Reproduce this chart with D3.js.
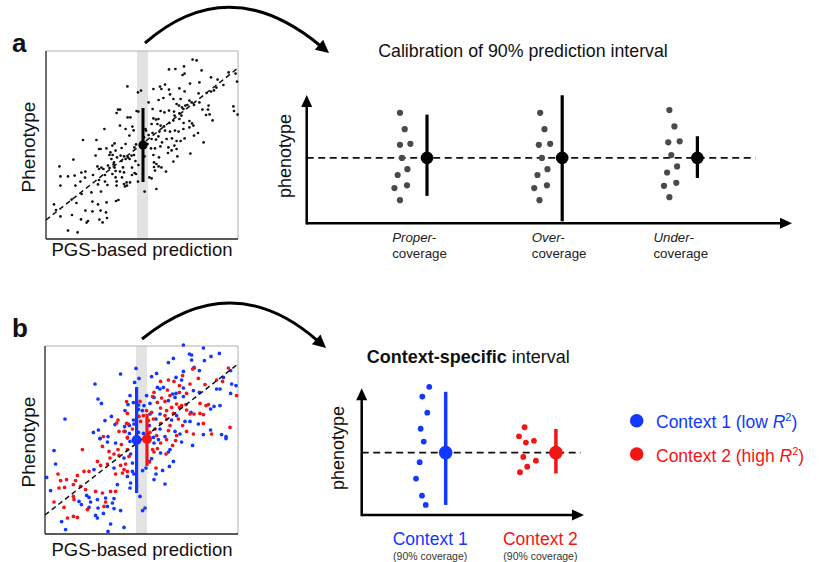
<!DOCTYPE html>
<html><head><meta charset="utf-8">
<script src="https://cdn.jsdelivr.net/npm/d3@7"></script>
<style>
body{margin:0;background:#fff}
svg{display:block}
text{font-family:"Liberation Sans",Arial,Helvetica,sans-serif;fill:#111}
</style>
</head><body>
<svg id="c" width="825" height="562"></svg>
<script>
// ---------------- DATA ----------------
// Panel a scatter: [PGS-based prediction, phenotype] (arbitrary units)
const scatterA = [
[40.7,76.3],[46,73.3],[47.5,74.2],[36,64.7],[37,64.7],[35.3,63],[45.3,64],[46.2,63.7],[40.8,60.8],[42.2,60.8],
[29.2,55],[37,56.7],[43.2,56.2],[43.8,54.3],[39.8,55],[41.7,51.7],[18.5,49.5],[25.2,49.5],[34.3,47.8],[33.2,46.7],
[30.2,45.3],[27.3,45],[32.2,43.3],[34.8,44.2],[37.8,45.5],[39.8,47.5],[45,47.3],[44.2,45.8],[24.8,41.7],[26.5,45],
[31.7,42],[33.3,42],[35.5,40.8],[37.3,41.7],[39,41.3],[41,40.8],[42.8,41.7],[44,42],[13.7,39.7],[32.7,40],
[34,38.3],[39.8,40],[41.8,40],[37.8,39],[44.7,39],[6.7,36.3],[25.7,36.3],[27.7,35.7],[31,36.7],[33.8,37.3],
[31.8,35.5],[34.3,35.7],[38.5,35.8],[43,35.7],[46.2,37],[19.7,33.7],[17.7,33.2],[26.5,35],[28.7,35],[34.8,34],
[37,33.7],[39,33.3],[44.3,33],[43,32],[45,32.5],[7.2,31.3],[11,31.3],[14.3,31.7],[23.5,32],[19.5,30.7],
[29.5,32],[33.2,32.5],[34.8,30.8],[38,30.8],[17.2,28.7],[26.5,29.5],[29.5,28.7],[35.3,28.8],[40.3,28.3],[42,28.3],
[46,28.7],[7.2,26.7],[14.7,26.7],[26,27.3],[30.7,27],[35.3,26.7],[39,27.5],[39.5,26.3],[40.5,26.7],[17.8,22.5],
[22.7,23.3],[27.5,23.7],[12.8,19.7],[15.2,18],[4,17.3],[23.2,18.7],[26,17.3],[30.3,18.3],[35,19],[36.2,19.5],
[5,14.5],[19.7,14.2],[23.2,13.8],[27.3,14.2],[30,13.3],[7.2,11.3],[13,12],[17.5,9.8],[21,9],[20.3,8.2],
[26.7,9.7],[30.5,10.5],[28.3,8.3],[11,4.2],[15.8,3.3],
[73.3,89.7],[75.3,89.3],[69,86.3],[64.7,85],[61.5,84.8],[77.8,84.3],[68.3,82],[69.3,82.7],[82.5,80.8],[85.8,79.7],
[91.3,83.3],[94.8,82.7],[95.5,78.7],[76.7,78.3],[72,77.7],[57,76.2],[59.5,77.2],[57.7,75],[53.7,75],[66.7,75.3],
[69.3,73.8],[61.5,74.7],[88.7,77],[85.2,75.7],[84,74.3],[82.5,73.7],[80.3,73],[76.3,72.8],[62,72.3],[58.7,70.5],
[63.7,70],[56.3,69.5],[51.3,68.3],[67.3,70],[65.3,67.5],[71.7,69.2],[72.8,68.3],[70.7,67],[69.7,66.7],[66.5,66.7],
[68,65.8],[68.7,65],[74,67],[76.7,68.3],[78.2,64.7],[81.3,66.7],[81,64.7],[81.8,62.3],[83.3,59.3],[80,62],
[93.7,66.3],[94,64],[95.8,62.2],[53.3,65],[57.3,64],[59.2,63.3],[61.5,64.2],[64,63.7],[64.3,61.7],[66.7,62.8],
[67.7,61.7],[53.7,60.3],[55,59.7],[56.2,60],[52.8,57.5],[55.7,57.5],[57.3,56.7],[59,56.3],[61.7,58],[63.7,59.2],
[66.7,60],[71.7,59],[73,57.8],[68.8,58],[50,54.2],[51.3,52],[53.3,53],[56.2,51.3],[56.7,53.7],[59.5,54.2],
[62,53.7],[64.5,54.2],[66.3,53.7],[68.7,55],[71.7,55.8],[73.7,56.7],[52.8,50],[55,49.7],[58,48.3],[60.3,50],
[63,50.3],[65.3,49],[67.3,49],[69.3,50.3],[74,51.7],[76,53],[78.8,48.3],[50.8,47.5],[52.5,45.3],[54.5,45.3],
[57.2,46.3],[61.2,45.8],[64.2,46.7],[65.3,45],[49.3,41.3],[53.7,42],[56.5,40.8],[61,43],[65.7,41.3],[72.2,42.7],
[62.8,44.3],[54,38.3],[55.2,37.5],[54,36],[56.3,36.3],[57.7,35.8],[63.7,38.7],[54.5,34.2],[60,33.7],[51.7,30.8],
[52.8,30.3],[49.3,23.7],[55.2,25],[49.7,55],[49,50.8],[49.7,46.7]
];
// Panel a interval at the highlighted prediction
const intervalA = {x: 48.5, lo: 28.5, mid: 47, hi: 65.5};
const bandA = [45.5, 51];
const fitA = [[0, 9.5], [96, 85.5]];

// Panel b scatter
const ctx1Points = [
[45.5,82.8],[47,77.8],[37.8,80],[25,75],[44.8,75.8],[42.5,69.2],[26.5,67.5],[28.2,65.3],[44.2,65.7],[41.5,64.7],
[46.8,64.5],[40,61.7],[46.7,62.3],[33.2,58.8],[10,57.5],[30,56.7],[35,54.7],[39.8,53.7],[42.2,54.3],[44.5,55],
[44.2,57],[24.2,50.8],[26.7,52],[31.5,48.7],[27.5,47.8],[40,51.3],[42.2,50.3],[46.7,50.8],
[69.2,94.5],[79.2,93],[87.2,90.3],[72.2,90],[73.3,89.5],[83,88.8],[64.2,87.8],[73.3,87],[61.7,85.7],[79.7,86.7],
[74.5,83.3],[77.2,81.7],[69.2,81.3],[55.8,80.3],[53.3,78.7],[65.5,78.3],[68.3,77],[89.2,78.3],[92.8,81.7],[59.2,73.3],
[57.5,72.5],[56.2,73.3],[69.2,73],[63.8,70],[65.5,70.3],[74.2,71.7],[77.2,70.8],[85.8,72.5],[87.5,72.5],[93.3,75],
[92.8,70.3],[95.5,74.2],[50.8,69.2],[54.5,68.3],[65,68.3],[69.2,68.7],[61.7,66.7],[52.5,65.3],[87.5,64.2],[84.5,63.8],
[82.8,62.5],[73,60.8],[65.8,59.2],[57.5,60],[52.5,60],[48.7,61.7],[49.5,64.2],[55.5,57.5],[63.3,57],[70,56.3],
[72.5,56.3],[76.7,55],[82.8,52],[52.2,54.2],[57.5,52.5],[65,51.3],[67.5,50],[88.3,49.7],[90.5,48.7],[79.2,49.7],
[49.2,50.3],[54.2,48.3],[60,48.7],
[27.5,47.7],[31.2,46],[35.3,45.5],[42.5,46.3],[4.5,41.7],[42.8,40],[39.5,38],[43.7,35.5],[34.5,33],[24.5,32.2],
[43.7,31.3],[41.2,28.8],[44.5,30],[5.3,35],[42.8,25.5],[36.2,24.7],[42.5,23],[0.8,28.3],[2.8,21.7],[20.8,19.3],
[22,18.3],[22.8,16],[26.2,17.2],[30.3,18],[34.5,17.7],[33.7,15.5],[17,16.3],[18.2,14.7],[22,13.3],[26.5,13],
[31.2,13.8],[34.5,12.7],[37.8,11.7],[25.3,9.3],[26.2,8],[29.2,10.3],[32.8,5],[39.5,3.3],[31.5,1.3],[10.3,2.2],
[41.2,48],[8.3,6.2],
[68.3,46],[73.8,44.3],[90.5,47.7],[62.5,42.2],[61.7,41],[57.8,40.5],[64.2,36.3],[62.2,33.8],[58.8,31.8],[55.5,30],
[54.5,27.2],[60,25],[53.3,37.7],[52.2,36.3],[50.5,33],[48.8,31.7],[50,13],[48.8,11.7],[47.5,18.8],[56.7,47.2],
[54.5,45.5]
];
const ctx2Points = [
[40.8,66.2],[47.5,66.3],[41.2,60.3],[47,58.8],[36.5,57],[35.8,55.5],[40.8,55.3],[41.7,55],[37,51.3],[39.5,51.3],
[43.7,52.5],[29.2,48.7],[41.2,48.3],[45.8,48.3],[47.8,56.3],
[74.7,83],[73.8,82.5],[68.8,79.2],[76.7,77.8],[61.7,77],[57.8,76.3],[64.5,76.3],[72.5,75],[80,74.7],[91.7,83],
[88.8,76.3],[85.8,77],[67.2,74.2],[61.2,72],[54.5,70.8],[67.2,70.8],[70.8,70.3],[62.5,69.2],[58.3,68],[53.8,68.7],
[56.2,65.8],[60,66.3],[65.8,65],[68.3,64.2],[67.2,63.3],[70.5,64.7],[63.3,63.3],[57.8,63],[77.5,65.3],[80.5,64.2],
[81.7,64.7],[95.8,69.2],[60.8,61.7],[70.8,62],[74.5,60],[64.2,60.3],[60,59.2],[53.3,60.8],[50.8,61.7],[54.2,57.5],
[60.8,57.5],[66.7,57.5],[72.5,60],[77.5,60.3],[79.2,59.7],[49.2,59.2],[51.7,56.7],[57.8,55.3],[62.5,54.2],[68.8,54.2],
[79.2,55.3],[55,52.5],[61.7,51.7],[70.8,51.3],[74.2,50],[92.5,53.3],[55.8,49.2],[50,48.3],[52.5,50.8],[65.8,49.2],
[83.3,50],
[18.7,42.2],[28.7,43.8],[32,41.3],[36.5,42.2],[34.5,40],[37,39.3],[32.5,38],[26.2,36.3],[27.8,34.3],[31.2,35],
[19.5,31.3],[22,31.3],[16.2,29.3],[6.5,30],[7.8,26.7],[10.8,27.2],[15.3,26.7],[7,23],[9.8,23.3],[14.2,24.7],
[17.8,23.8],[20.3,22.2],[25.3,21.3],[28.7,20.5],[32.8,21.3],[35.3,21.3],[38.7,30.5],[39.5,32.2],[41.2,31.3],[35.3,30],
[37.8,34.3],[40.3,35],[14.2,18.8],[14.5,17.2],[4.5,16],[9.5,13.3],[30.3,16],[29.5,13.8],[21.2,12.2],[11.2,8],
[14.2,8.8],[16.2,8.3],[41.2,42.2],[42,38.8],[38.2,44.7],
[65.3,46.7],[63.8,44.3],[60.8,47.2],[60.5,40],[56.2,42.7],[54.5,41],[53.8,42.2],[55.5,33],[52.2,36],[57.8,45.5]
];
const intervalB = [{x: 45.8, lo: 20.5, mid: 47, hi: 73.5}, {x: 51, lo: 34, mid: 47.5, hi: 60}];
const bandB = [45.5, 51];
const fitB = [[0, 9.5], [96.5, 85]];

// Calibration panel (a, right)
const calibCats = ["Proper-", "Over-", "Under-"];
const calibLo = [-1.51, -2.52, -0.80];
const calibHi = [1.72, 2.49, 0.86];
const calibDotX = [
  [0.80,0.835,0.80,0.877,0.815,0.855,0.783,0.759,0.852,0.80],
  [1.837,1.869,1.827,1.911,1.85,1.891,1.817,1.793,1.887,1.832],
  [2.793,2.83,2.785,2.869,2.807,2.85,2.776,2.753,2.844,2.793]
];
const calibDotY = [
  [1.79,1.14,0.52,0.56,0,-0.45,-0.68,-1.2,-1.09,-1.68],
  [1.79,1.14,0.52,0.56,0,-0.45,-0.68,-1.2,-1.09,-1.68],
  [1.9,1.25,0.62,0.66,0.11,-0.34,-0.58,-1.11,-0.99,-1.56]
];

// Context-specific panel (b, right)
const ctxCats = ["Context 1", "Context 2"];
const ctxLo = [-2.08, -0.83];
const ctxHi = [2.42, 0.94];
const ctxDotX = [
  [0.851,0.788,0.833,0.773,0.801,0.764,0.731,0.785,0.819],
  [1.716,1.665,1.728,1.801,1.704,1.819,1.740,1.674]
];
const ctxDotY = [
  [2.62,2.23,1.59,0.95,0.44,-0.38,-1.03,-1.71,-2.08],
  [1.01,0.65,0.40,0.47,-0.17,-0.32,-0.56,-0.78]
];

// ---------------- DRAWING ----------------
const BLUE = "#1238ff", RED = "#f41414";
const svg = d3.select("#c");

function scatterPanel(box, xMax, series, band, bars, fit) {
  const x = d3.scaleLinear().domain([0, xMax]).range([box.x0, box.x1]);
  const y = d3.scaleLinear().domain([0, 94]).range([box.y1, box.y0]);
  const g = svg.append("g");
  g.append("rect").attr("x", x(band[0])).attr("y", y(94))
    .attr("width", x(band[1]) - x(band[0])).attr("height", y(0) - y(94)).attr("fill", "#e3e3e3");
  // frame: top/right light, left/bottom dark
  g.append("line").attr("x1", x(0)).attr("x2", x(xMax)).attr("y1", y(94)).attr("y2", y(94)).attr("stroke", "#b0b0b0").attr("stroke-width", 1);
  g.append("line").attr("x1", x(xMax)).attr("x2", x(xMax)).attr("y1", y(94)).attr("y2", y(0)).attr("stroke", "#b0b0b0").attr("stroke-width", 1);
  g.append("line").attr("x1", x(0)).attr("x2", x(0)).attr("y1", y(94)).attr("y2", y(0)).attr("stroke", "#222").attr("stroke-width", 1.3);
  g.append("line").attr("x1", x(0)).attr("x2", x(xMax)).attr("y1", y(0)).attr("y2", y(0)).attr("stroke", "#222").attr("stroke-width", 1.3);
  series.forEach(s => {
    g.append("g").selectAll("circle").data(s.data).join("circle")
      .attr("cx", d => x(d[0])).attr("cy", d => y(d[1])).attr("r", s.r).attr("fill", s.color);
  });
  g.append("line").attr("x1", x(fit[0][0])).attr("y1", y(fit[0][1])).attr("x2", x(fit[1][0])).attr("y2", y(fit[1][1]))
    .attr("stroke", "#111").attr("stroke-width", 1.5).attr("stroke-dasharray", "5,3.5");
  bars.forEach(b => {
    g.append("line").attr("x1", x(b.x)).attr("x2", x(b.x)).attr("y1", y(b.lo)).attr("y2", y(b.hi))
      .attr("stroke", b.color).attr("stroke-width", b.w);
    g.append("circle").attr("cx", x(b.x)).attr("cy", y(b.mid)).attr("r", b.r).attr("fill", b.color);
  });
  return {x, y};
}

scatterPanel({x0: 46, x1: 238, y0: 51, y1: 239}, 96,
  [{data: scatterA, r: 1.35, color: "#111"}], bandA,
  [Object.assign({color: "#000", w: 3, r: 4.6}, intervalA)], fitA);

scatterPanel({x0: 45, x1: 238, y0: 346, y1: 534}, 96.5,
  [{data: ctx1Points, r: 1.85, color: BLUE}, {data: ctx2Points, r: 1.85, color: RED}], bandB,
  [Object.assign({color: BLUE, w: 3.2, r: 5}, intervalB[0]), Object.assign({color: RED, w: 3.2, r: 5}, intervalB[1])], fitB);

// Scatter labels
function label(t, x, y, size, opts = {}) {
  const el = svg.append("text").attr("x", x).attr("y", y).attr("font-size", size).text(t);
  if (opts.anchor) el.attr("text-anchor", opts.anchor);
  if (opts.weight) el.attr("font-weight", opts.weight);
  if (opts.style) el.attr("font-style", opts.style);
  if (opts.fill) el.style("fill", opts.fill);
  if (opts.rotate) el.attr("transform", `rotate(-90 ${x} ${y})`);
  return el;
}
label("a", 12, 52, 26, {weight: "bold"});
label("b", 12, 337, 26, {weight: "bold"});
label("Phenotype", 35, 147, 19, {anchor: "middle", rotate: true});
label("Phenotype", 35, 442, 19, {anchor: "middle", rotate: true});
label("PGS-based prediction", 142, 256, 18.5, {anchor: "middle"});
label("PGS-based prediction", 142, 556, 18.5, {anchor: "middle"});

// curved arrows
function curvedArrow(p0, c, p2) {
  const ang = Math.atan2(p2[1] - c[1], p2[0] - c[0]);
  const L = 13, W = 6.5;
  const bx = p2[0] - L * Math.cos(ang), by = p2[1] - L * Math.sin(ang);
  const ex = p2[0] - (L - 2) * Math.cos(ang), ey = p2[1] - (L - 2) * Math.sin(ang);
  const p = d3.path();
  p.moveTo(p0[0], p0[1]); p.quadraticCurveTo(c[0], c[1], ex, ey);
  svg.append("path").attr("d", p.toString()).attr("fill", "none").attr("stroke", "#000").attr("stroke-width", 3);
  const nx = -Math.sin(ang), ny = Math.cos(ang);
  svg.append("path").attr("d", `M${p2[0]},${p2[1]}L${bx + nx * W},${by + ny * W}L${bx - nx * W},${by - ny * W}Z`).attr("fill", "#000");
}
curvedArrow([145, 43], [229, -30], [329, 53]);
curvedArrow([142, 339], [232, 266], [326, 348]);

function axisArrows(x, y, xd, yd) {
  const g = svg.append("g");
  const x0 = x(xd[0]), x1 = x(xd[1]), y0 = y(yd[0]), y1 = y(yd[1]);
  g.append("line").attr("x1", x0).attr("x2", x1 - 10).attr("y1", y0).attr("y2", y0).attr("stroke", "#000").attr("stroke-width", 2.5);
  g.append("line").attr("x1", x0).attr("x2", x0).attr("y1", y0 + 1.2).attr("y2", y1 + 10).attr("stroke", "#000").attr("stroke-width", 2.5);
  g.append("path").attr("d", `M${x1},${y0}L${x1 - 12},${y0 - 5.5}L${x1 - 12},${y0 + 5.5}Z`).attr("fill", "#000");
  g.append("path").attr("d", `M${x0},${y1}L${x0 - 5.5},${y1 + 12}L${x0 + 5.5},${y1 + 12}Z`).attr("fill", "#000");
}

// ---- Calibration panel ----
{
  const xd = [0.11, 3.7], yd = [-2.6, 2.5];
  const x = d3.scaleLinear().domain(xd).range([306.7, 792]);
  const y = d3.scaleLinear().domain(yd).range([223.3, 95]);
  label("Calibration of 90% prediction interval", 523, 57, 17.8, {anchor: "middle"});
  label("phenotype", 291, 156, 18, {anchor: "middle", rotate: true});
  svg.append("line").attr("x1", x(xd[0])).attr("x2", x(3.43)).attr("y1", y(0)).attr("y2", y(0))
    .attr("stroke", "#111").attr("stroke-width", 1.6).attr("stroke-dasharray", "7,4.5");
  axisArrows(x, y, xd, yd);
  calibCats.forEach((c, i) => {
    const pts = calibDotX[i].map((v, j) => [v, calibDotY[i][j]]);
    svg.append("g").selectAll("circle").data(pts).join("circle")
      .attr("cx", d => x(d[0])).attr("cy", d => y(d[1])).attr("r", 3.1).attr("fill", "#4a4a4a");
    svg.append("line").attr("x1", x(i + 1)).attr("x2", x(i + 1)).attr("y1", y(calibLo[i])).attr("y2", y(calibHi[i]))
      .attr("stroke", "#000").attr("stroke-width", 3.2);
    svg.append("circle").attr("cx", x(i + 1)).attr("cy", y(0)).attr("r", 6.3).attr("fill", "#000");
  });
  const labX = [0.742, 1.775, 2.675];
  calibCats.forEach((c, i) => {
    label(c, x(labX[i]), 241.5, 13.3, {style: "italic", fill: "#222"});
    label("coverage", x(labX[i]), 258, 13.3, {fill: "#222"});
  });
}

// ---- Context-specific panel ----
{
  const xd = [0.238, 2.255], yd = [-2.48, 2.56];
  const x = d3.scaleLinear().domain(xd).range([361.7, 584]);
  const y = d3.scaleLinear().domain(yd).range([515, 388.3]);
  const t = svg.append("text").attr("x", 366.7).attr("y", 362.5).attr("font-size", 18);
  t.append("tspan").attr("font-weight", "bold").text("Context-specific");
  t.append("tspan").text(" interval");
  label("phenotype", 344, 448, 18, {anchor: "middle", rotate: true});
  svg.append("line").attr("x1", x(xd[0])).attr("x2", x(2.225)).attr("y1", y(0)).attr("y2", y(0))
    .attr("stroke", "#111").attr("stroke-width", 1.6).attr("stroke-dasharray", "7,4.5");
  axisArrows(x, y, xd, yd);
  const cols = [BLUE, RED];
  ctxCats.forEach((c, i) => {
    const pts = ctxDotX[i].map((v, j) => [v, ctxDotY[i][j]]);
    svg.append("g").selectAll("circle").data(pts).join("circle")
      .attr("cx", d => x(d[0])).attr("cy", d => y(d[1])).attr("r", 2.9).attr("fill", cols[i]);
    svg.append("line").attr("x1", x(i + 1)).attr("x2", x(i + 1)).attr("y1", y(ctxLo[i])).attr("y2", y(ctxHi[i]))
      .attr("stroke", cols[i]).attr("stroke-width", 3.5);
    svg.append("circle").attr("cx", x(i + 1)).attr("cy", y(0)).attr("r", 6.8).attr("fill", cols[i]);
    label(c, x(i + 1) - 15.5, 545, 17.5, {anchor: "middle", fill: cols[i]});
    label("(90% coverage)", x(i + 1) - 15.5, 559.5, 10.5, {anchor: "middle", fill: "#333"});
  });
  // legend
  const legend = [{t: "Context 1 (low ", c: BLUE}, {t: "Context 2 (high ", c: RED}];
  legend.forEach((d, i) => {
    const yy = 420.7 + i * 33.3;
    svg.append("circle").attr("cx", 636.7).attr("cy", yy).attr("r", 6.8).attr("fill", d.c);
    const tx = svg.append("text").attr("x", 656).attr("y", yy + 7.6).attr("font-size", 17.5).style("fill", d.c);
    tx.append("tspan").text(d.t);
    tx.append("tspan").attr("font-style", "italic").text("R");
    tx.append("tspan").attr("font-size", 11).attr("dy", -7).text("2");
    tx.append("tspan").attr("dy", 7).text(")");
  });
}
</script>
</body></html>
